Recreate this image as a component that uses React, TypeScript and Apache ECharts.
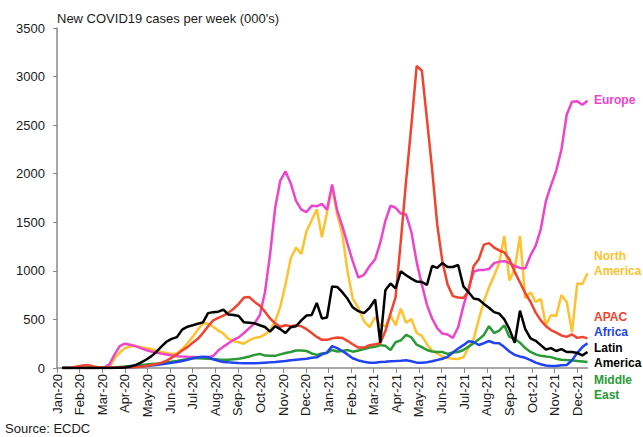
import React, { useEffect, useRef } from "react";
import * as echarts from "echarts";

// Weekly data, first week ending 2020-01-08, one value per week (000's)
const START_UTC = Date.UTC(2020, 0, 8);
const monthNames = ["Jan", "Feb", "Mar", "Apr", "May", "Jun", "Jul", "Aug", "Sep", "Oct", "Nov", "Dec"];
const monthTicks = [0, 1, 2, 3, 4, 5, 6, 7, 8, 9, 10, 11, 12, 13, 14, 15, 16, 17, 18, 19, 20, 21, 22, 23];
const yTicks = { min: 0, max: 3500, step: 500 };

const europe = [
  0, 0, 0, 0, 0, 0, 0, 2, 8, 40,
  140, 225, 250, 240, 225, 205, 185, 170, 160, 148,
  138, 128, 122, 118, 115, 113, 110, 108, 110, 125,
  180, 220, 255, 290, 315, 360, 410, 460, 545, 780,
  1170, 1650, 1930, 2025, 1900, 1720, 1630, 1605, 1670, 1665,
  1690, 1630, 1890, 1620, 1460, 1280, 1100, 930, 960, 1050,
  1120, 1290, 1515, 1670, 1650, 1590, 1580, 1400, 1090, 860,
  650, 510, 410, 355, 345, 310, 420, 640, 820, 990,
  1010, 1010, 1020, 1080, 1095, 1100, 1080, 1050, 1030, 1025,
  1160, 1260, 1430, 1720, 1880, 2030, 2250, 2610, 2740, 2745,
  2710, 2750,
];

const apac = [
  0, 0, 5, 15, 25, 30, 15, 5, 5, 5,
  5, 5, 5, 8, 10, 12, 20, 30, 40, 55,
  75, 105, 140, 180, 215, 260, 300, 360, 430, 490,
  515, 540, 570, 610, 660, 725, 730, 680, 640, 580,
  510, 460, 425, 440, 430, 440, 430, 400, 360, 320,
  290, 290, 305, 315, 310, 280, 245, 210, 210, 235,
  245, 255, 380, 560, 730, 1310, 1930, 2500, 3110, 3060,
  2560, 2050, 1480, 1100, 860, 740, 725, 720, 790, 1050,
  1120, 1270, 1285, 1240, 1210, 1190, 1120, 990, 880, 770,
  680, 570, 490, 430, 390, 365, 335, 320, 345, 310,
  320, 305,
];

const latinAmerica = [
  0, 0, 0, 0, 0, 0, 0, 0, 0, 0,
  0, 3, 5, 15, 30, 55, 85, 120, 165, 220,
  270, 300, 318, 395, 425, 440, 455, 470, 565, 575,
  580, 600, 550, 545, 535, 470, 465, 460, 440, 422,
  375, 430, 400, 360, 420, 430, 490, 540, 545, 670,
  510, 520, 840, 835, 780, 715, 625, 585, 565, 620,
  705, 260, 800, 870, 820, 995, 955, 920, 890, 885,
  855, 1050, 1030, 1080, 1040, 1040, 1060, 840, 780, 715,
  705, 660, 620, 575, 560, 500, 400, 260, 590, 400,
  305, 280, 235, 190, 205, 175, 195, 165, 165, 155,
  130, 165,
];

const northAmerica = [
  0, 0, 0, 0, 0, 0, 0, 0, 0, 10,
  100, 160, 205, 222, 228, 215, 205, 195, 180, 165,
  155, 145, 150, 195, 255, 320, 395, 460, 455, 425,
  385, 355, 300, 278, 265, 250, 285, 310, 319, 345,
  390, 480, 630, 860, 1130, 1240, 1175, 1410, 1520, 1635,
  1345, 1600, 1860, 1580, 1380, 1000, 715, 620, 480, 420,
  525, 445, 430, 540, 440, 610, 465, 505, 360, 330,
  245, 180, 150, 115, 103, 95, 93, 110, 210, 300,
  500, 690, 830, 950, 1080, 1360, 900, 1020, 1360, 720,
  780, 680, 710, 440, 545, 535, 750, 680, 370, 870,
  865, 975,
];

const africa = [
  0, 0, 0, 0, 0, 0, 0, 0, 0, 0,
  2, 4, 6, 8, 10, 15, 20, 25, 30, 38,
  45, 55, 62, 72, 85, 100, 110, 115, 112, 90,
  75, 62, 58, 55, 52, 50, 50, 50, 52, 55,
  58, 62, 68, 72, 80, 85, 90, 95, 105, 110,
  140, 160, 225, 205, 175, 140, 100, 78, 65, 55,
  55, 62, 65, 70, 72, 75, 80, 70, 55, 55,
  60, 70, 82, 95, 115, 160, 200, 235, 275, 268,
  237, 255, 278, 257, 255, 215, 170, 135, 118, 105,
  82, 55, 38, 25, 21, 21, 28, 31, 80, 155,
  215, 255,
];

const middleEast = [
  0, 0, 0, 0, 0, 0, 0, 0, 0, 2,
  5, 10, 15, 20, 25, 30, 35, 40, 45, 50,
  58, 65, 72, 82, 90, 100, 100, 98, 95, 92,
  88, 85, 85, 90, 95, 105, 118, 135, 145, 128,
  125, 125, 140, 155, 165, 180, 180, 175, 150, 135,
  150, 155, 185, 170, 175, 185, 168, 180, 195, 210,
  218, 235, 228, 185, 265, 285, 340, 315, 240, 215,
  185, 170, 165, 165, 145, 160, 165, 185, 220, 255,
  295, 340, 430, 360, 385, 440, 320, 300, 260, 205,
  165, 140, 125, 118, 112, 95, 85, 82, 80, 72,
  68, 62,
];

const seriesDefs = [
  { name: "North America", values: northAmerica, color: "#FFC22E" },
  { name: "Europe", values: europe, color: "#EE44CC" },
  { name: "Middle East", values: middleEast, color: "#2A9A36" },
  { name: "Africa", values: africa, color: "#2143F2" },
  { name: "APAC", values: apac, color: "#F2432E" },
  { name: "Latin America", values: latinAmerica, color: "#000000" },
];

const sideLabels = [
  { lines: ["Europe"], color: "#EE44CC", y: 100 },
  { lines: ["North", "America"], color: "#FFC22E", y: 256 },
  { lines: ["APAC"], color: "#F2432E", y: 317 },
  { lines: ["Africa"], color: "#2143F2", y: 332 },
  { lines: ["Latin", "America"], color: "#000000", y: 348 },
  { lines: ["Middle", "East"], color: "#2A9A36", y: 380 },
];

function monthPos(ms: number): number {
  const d = new Date(ms);
  const y = d.getUTCFullYear();
  const m = d.getUTCMonth();
  const day = d.getUTCDate();
  const dim = new Date(Date.UTC(y, m + 1, 0)).getUTCDate();
  return (y - 2020) * 12 + m + (day - 1) / dim;
}

const weekX = europe.map((_, i) => monthPos(START_UTC + i * 7 * 86400000));

const FONT = '"Liberation Sans", Arial, sans-serif';

export default function App() {
  const ref = useRef<HTMLDivElement>(null);
  useEffect(() => {
    if (!ref.current) return;
    const chart = echarts.init(ref.current, undefined, { renderer: "svg" });
    const graphics: any[] = [
      {
        type: "text",
        x: 57,
        y: 18,
        style: {
          text: "New COVID19 cases per week (000's)",
          fill: "#1a1a1a",
          font: `13px ${FONT}`,
          align: "left",
          verticalAlign: "middle",
        },
      },
      {
        type: "text",
        x: 5,
        y: 428,
        style: {
          text: "Source: ECDC",
          fill: "#1a1a1a",
          font: `13px ${FONT}`,
          align: "left",
          verticalAlign: "middle",
        },
      },
    ];
    sideLabels.forEach((l) => {
      l.lines.forEach((t, j) => {
        graphics.push({
          type: "text",
          x: 594,
          y: l.y + j * 15,
          style: {
            text: t,
            fill: l.color,
            font: `bold 12px ${FONT}`,
            align: "left",
            verticalAlign: "middle",
          },
        });
      });
    });

    chart.setOption({
      animation: false,
      backgroundColor: "#ffffff",
      grid: { left: 57, right: 55.5, top: 28, bottom: 69, containLabel: false },
      xAxis: {
        type: "value",
        min: 0,
        max: weekX[weekX.length - 1],
        splitLine: { show: false },
        axisLine: { show: true, lineStyle: { color: "#8a8a8a", width: 1.5 } },
        axisTick: { show: true, customValues: monthTicks, length: 5, lineStyle: { color: "#8a8a8a", width: 1 } },
        axisLabel: {
          customValues: monthTicks,
          rotate: 90,
          margin: 6,
          color: "#1a1a1a",
          fontSize: 13,
          fontFamily: FONT,
          formatter: (v: number) => {
            const i = Math.round(v);
            return monthNames[i % 12] + "-" + (20 + Math.floor(i / 12));
          },
        },
      },
      yAxis: {
        type: "value",
        min: yTicks.min,
        max: yTicks.max,
        interval: yTicks.step,
        splitLine: { show: false },
        axisLine: { show: true, lineStyle: { color: "#8a8a8a", width: 1.5 } },
        axisTick: { show: true, length: 4, lineStyle: { color: "#8a8a8a", width: 1 } },
        axisLabel: {
          margin: 12,
          color: "#1a1a1a",
          fontSize: 13,
          fontFamily: FONT,
          formatter: (v: number) => String(v),
        },
      },
      series: seriesDefs.map((s) => ({
        name: s.name,
        type: "line",
        data: s.values.map((v, i) => [weekX[i], v]),
        showSymbol: false,
        symbol: "none",
        lineStyle: { color: s.color, width: 2.5 },
        itemStyle: { color: s.color },
        emphasis: { disabled: true },
      })),
      graphic: graphics,
    });
    return () => chart.dispose();
  }, []);
  return (
    <div
      ref={ref}
      style={{ position: "absolute", left: 0, top: 0, width: 643, height: 437 }}
    />
  );
}
